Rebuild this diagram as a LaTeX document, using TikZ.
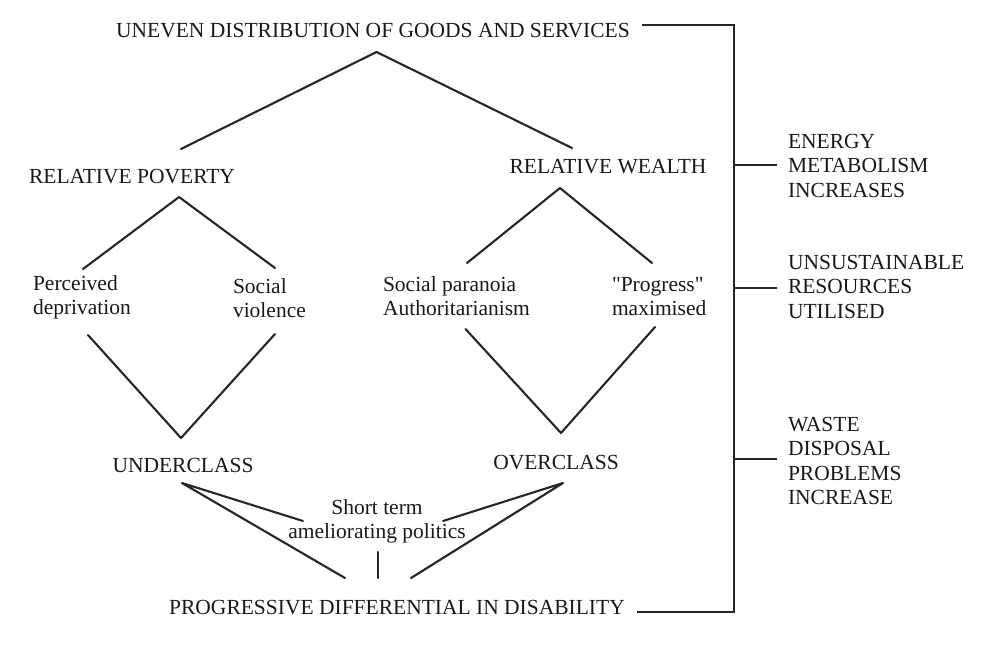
\documentclass[tikz,border=0pt]{standalone}
\usepackage{fontspec}
\setmainfont{Liberation Serif}
\newfontfamily\plainquote[Ligatures=ResetAll]{Liberation Serif}
\tikzset{
  lbl/.style={inner sep=0pt, outer sep=0pt, font=\fontsize{21.5}{24.5}\selectfont, text=black!90},
  conn/.style={line width=2.1pt, black!85, line cap=round, line join=round},
}
\newcommand{\lines}[2][l]{\begin{tabular}[t]{@{}#1@{}}#2\end{tabular}}
\newcommand{\sq}{{\plainquote "}}
\begin{document}
\begin{tikzpicture}[x=1pt,y=-1pt]
\useasboundingbox[fill=white] (0,0) rectangle (1004,646);
% text nodes
\node[lbl, anchor=base] (top) at (373,37) {UNEVEN DISTRIBUTION OF GOODS AND SERVICES};
\node[lbl, anchor=base] (poverty) at (132,183) {RELATIVE POVERTY};
\node[lbl, anchor=base] (wealth) at (608,173) {RELATIVE WEALTH};
\node[lbl, anchor=base west] (perc) at (33,290) {\lines{Perceived\\deprivation}};
\node[lbl, anchor=base west] (viol) at (233,293) {\lines{Social\\violence}};
\node[lbl, anchor=base west] (para) at (383,291) {\lines{Social paranoia\\Authoritarianism}};
\node[lbl, anchor=base west] (prog) at (612,291) {\lines{\sq Progress\sq\\maximised}};
\node[lbl, anchor=base] (under) at (183,472) {UNDERCLASS};
\node[lbl, anchor=base] (over) at (556,469) {OVERCLASS};
\node[lbl, anchor=base] (short) at (377,514) {\lines[c]{Short term\\ameliorating politics}};
\node[lbl, anchor=base] (bottom) at (397,614) {PROGRESSIVE DIFFERENTIAL IN DISABILITY};
\node[lbl, anchor=base west] (energy) at (788,148) {\lines{ENERGY\\METABOLISM\\INCREASES}};
\node[lbl, anchor=base west] (unsus) at (788,269) {\lines{UNSUSTAINABLE\\RESOURCES\\UTILISED}};
\node[lbl, anchor=base west] (waste) at (788,431) {\lines{WASTE\\DISPOSAL\\PROBLEMS\\INCREASE}};
% connector points
\coordinate (a0) at (376.5,52);
\coordinate (a1) at (181,149);
\coordinate (a2) at (572,148);
\coordinate (p0) at (179,197);
\coordinate (p1) at (83,269);
\coordinate (p2) at (275,268);
\coordinate (w0) at (560,188);
\coordinate (w1) at (467,263);
\coordinate (w2) at (652,263);
\coordinate (v1) at (88,335);
\coordinate (v0) at (181,438);
\coordinate (v2) at (275,334);
\coordinate (o1) at (465.5,329);
\coordinate (o0) at (561,433);
\coordinate (o2) at (655,327);
\coordinate (u0) at (182,483);
\coordinate (u1) at (303,521);
\coordinate (u2) at (345,578);
\coordinate (c0) at (563,483);
\coordinate (c1) at (443,521);
\coordinate (c2) at (411,578);
\coordinate (s0) at (378,552);
\coordinate (s1) at (378,578);
\coordinate (bt0) at (642,25);
\coordinate (bt1) at (734,25);
\coordinate (bb0) at (637,612);
\coordinate (bb1) at (734,612);
\coordinate (t1a) at (734,165);
\coordinate (t1b) at (777,165);
\coordinate (t2a) at (734,288);
\coordinate (t2b) at (777,288);
\coordinate (t3a) at (734,459);
\coordinate (t3b) at (777,459);
% connectors
\draw[conn] (a1) -- (a0) -- (a2);
\draw[conn] (p1) -- (p0) -- (p2);
\draw[conn] (w1) -- (w0) -- (w2);
\draw[conn] (v1) -- (v0) -- (v2);
\draw[conn] (o1) -- (o0) -- (o2);
\draw[conn] (u1) -- (u0) -- (u2);
\draw[conn] (c1) -- (c0) -- (c2);
\draw[conn] (s0) -- (s1);
\draw[conn, line cap=butt, line join=miter] (bt0) -- (bt1) -- (bb1) -- (bb0);
\draw[conn, line cap=butt] (t1a) -- (t1b);
\draw[conn, line cap=butt] (t2a) -- (t2b);
\draw[conn, line cap=butt] (t3a) -- (t3b);
\end{tikzpicture}
\end{document}
